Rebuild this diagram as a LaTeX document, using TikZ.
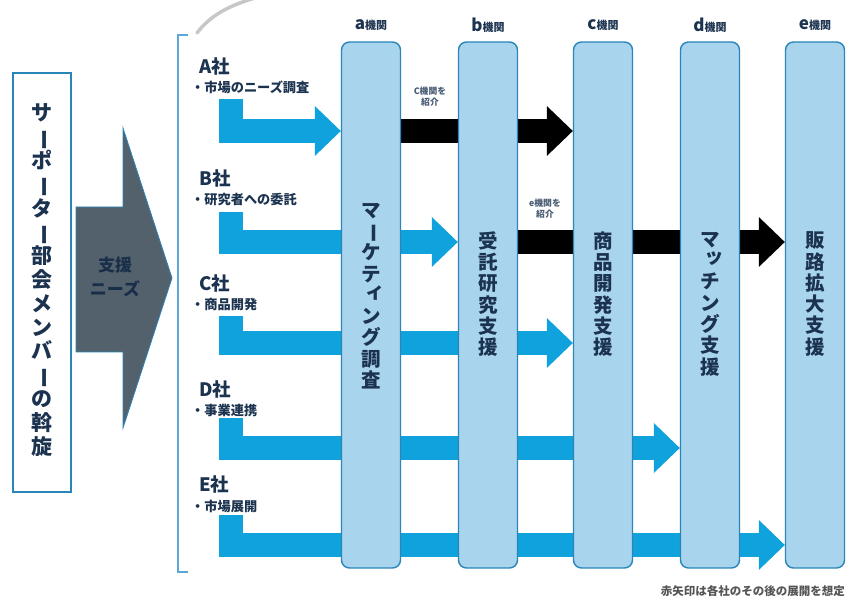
\documentclass[tikz,border=0pt]{standalone}
\usepackage{fontspec}
\setmainfont{Noto Sans CJK JP}
\usepackage{graphicx}
\usetikzlibrary{arrows.meta}
\definecolor{colfill}{HTML}{A8D4EE}
\definecolor{colline}{HTML}{2A85B8}
\definecolor{arrblue}{HTML}{10A2DD}
\definecolor{navy}{HTML}{1C3350}
\definecolor{slate}{HTML}{53616C}
\definecolor{brkblue}{HTML}{5AA8D8}
\definecolor{notegray}{HTML}{555555}
\newcommand\vchoon{\smash{\rotatebox[origin=c]{-90}{ー}}}
\newcommand\smallk[1]{\makebox[1em][l]{\hspace*{0.2em}\raisebox{0.2em}{#1}}}
\pgfdeclarelayer{bg}
\pgfsetlayers{bg,main}
\tikzset{
  col/.style={draw=colline, line width=1.4pt, fill=colfill, rounded corners=8pt,
    minimum width=59pt, minimum height=526pt, inner sep=0pt},
  blu/.style={draw=arrblue, line width=24pt,
    -{Triangle[length=26pt,width=50pt,line width=0pt]}},
  blk/.style={blu, draw=black},
  vtxt/.style={text=navy, align=center, inner sep=0pt,
    font=\bfseries\fontsize{19.5}{21.3}\selectfont},
  toplab/.style={text=navy, inner sep=0pt, font=\bfseries\fontsize{17}{17}\selectfont},
  coname/.style={text=navy, anchor=west, inner sep=0pt, font=\bfseries\fontsize{18.5}{18.5}\selectfont},
  coitem/.style={text=navy, anchor=west, inner sep=0pt, font=\bfseries\fontsize{13.2}{13.2}\selectfont},
  intro/.style={text=navy!80, align=center, inner sep=0pt, font=\bfseries\fontsize{8.8}{11}\selectfont},
  brk/.style={draw=brkblue, line width=1.2pt},
}
\begin{document}
\begin{tikzpicture}[x=1pt,y=-1pt]
\useasboundingbox (0,0) rectangle (847,601);

% grey arc at top
\draw[line width=3.5pt, black!22, line cap=round] (197,33) .. controls (210,16) and (228,5) .. (262,-4);

% bracket
\draw[brk] (188,35) -- (178,35) -- (178,572) -- (188,572);

% left box
\node[draw=colline, line width=2pt, fill=white, minimum width=58pt, minimum height=419pt, inner sep=0pt] (sup) at (42,282.5) {};
\node[text=navy, align=center, inner sep=0pt, font=\bfseries\fontsize{21}{23.8}\selectfont] (suptxt) at (42,280)
  {サ\\\vchoon\\ポ\\\vchoon\\タ\\\vchoon\\部\\会\\メ\\ン\\バ\\\vchoon\\の\\斡\\旋};

% big grey arrow
\draw[draw=colline, line width=0.8pt, fill=slate] (76,207) -- (123,207) -- (123,128) -- (172,278) -- (123,428) -- (123,352) -- (76,352) -- cycle;
\node[text=navy!90!black, align=center, inner sep=0pt, font=\bfseries\fontsize{17}{24}\selectfont] (needs) at (115,277) {支援\\ニーズ};

% columns
\node[col] (ca) at (371,305) {};
\node[col] (cb) at (488,305) {};
\node[col] (cc) at (603,305) {};
\node[col] (cd) at (710,305) {};
\node[col] (ce) at (815,305) {};

% column headings
\node[toplab] (ha) at (371,25) {a{\fontsize{11}{11}\selectfont 機関}};
\node[toplab] (hb) at (488,25) {b{\fontsize{11}{11}\selectfont 機関}};
\node[toplab] (hc) at (603,25) {c{\fontsize{11}{11}\selectfont 機関}};
\node[toplab] (hd) at (710,25) {d{\fontsize{11}{11}\selectfont 機関}};
\node[toplab] (he) at (815,25) {e{\fontsize{11}{11}\selectfont 機関}};

% column texts
\node[vtxt] (ta) at (371,296) {マ\\\vchoon\\ケ\\テ\\\smallk{ィ}\\ン\\グ\\調\\査};
\node[vtxt] (tb) at (488,294) {受\\託\\研\\究\\支\\援};
\node[vtxt] (tc) at (603,294) {商\\品\\開\\発\\支\\援};
\node[vtxt] (td) at (710,304) {マ\\\smallk{ッ}\\チ\\ン\\グ\\支\\援};
\node[vtxt] (te) at (815,294) {販\\路\\拡\\大\\支\\援};

% company labels
\node[coname] (nA) at (199,66) {A社};
\node[coitem] (iA) at (191,87) {・市場のニーズ調査};
\node[coname] (nB) at (199,178) {B社};
\node[coitem] (iB) at (191,200) {・研究者への委託};
\node[coname] (nC) at (199,283) {C社};
\node[coitem] (iC) at (191,305) {・商品開発};
\node[coname] (nD) at (199,389) {D社};
\node[coitem] (iD) at (191,410) {・事業連携};
\node[coname] (nE) at (199,484) {E社};
\node[coitem] (iE) at (191,506) {・市場展開};

% introduction labels
\node[intro] (introC) at (430,97) {C機関を\\紹介};
\node[intro] (introE) at (545,209) {e機関を\\紹介};

% row coordinates
\coordinate (yA) at (0,131);
\coordinate (yB) at (0,242);
\coordinate (yC) at (0,343);
\coordinate (yD) at (0,448);
\coordinate (yE) at (0,545);
\coordinate (sA) at (230.5,99);
\coordinate (sB) at (230.5,212);
\coordinate (sC) at (230.5,316);
\coordinate (sD) at (230.5,418);
\coordinate (sE) at (230.5,515);

\begin{pgfonlayer}{bg}
\draw[blu] (sA) |- (ca.west |- yA);
\draw[blu] (sB) |- (cb.west |- yB);
\draw[blu] (sC) |- (cc.west |- yC);
\draw[blu] (sD) |- (cd.west |- yD);
\draw[blu] (sE) |- (ce.west |- yE);
\draw[blk] (ca.east |- yA) -- (cc.west |- yA);
\draw[blk] (cb.east |- yB) -- (ce.west |- yB);
\end{pgfonlayer}

% note
\node[anchor=east, inner sep=0pt, text=notegray, font=\bfseries\fontsize{11.5}{11.5}\selectfont] (note) at (845,591) {赤矢印は各社のその後の展開を想定};
\end{tikzpicture}
\end{document}
